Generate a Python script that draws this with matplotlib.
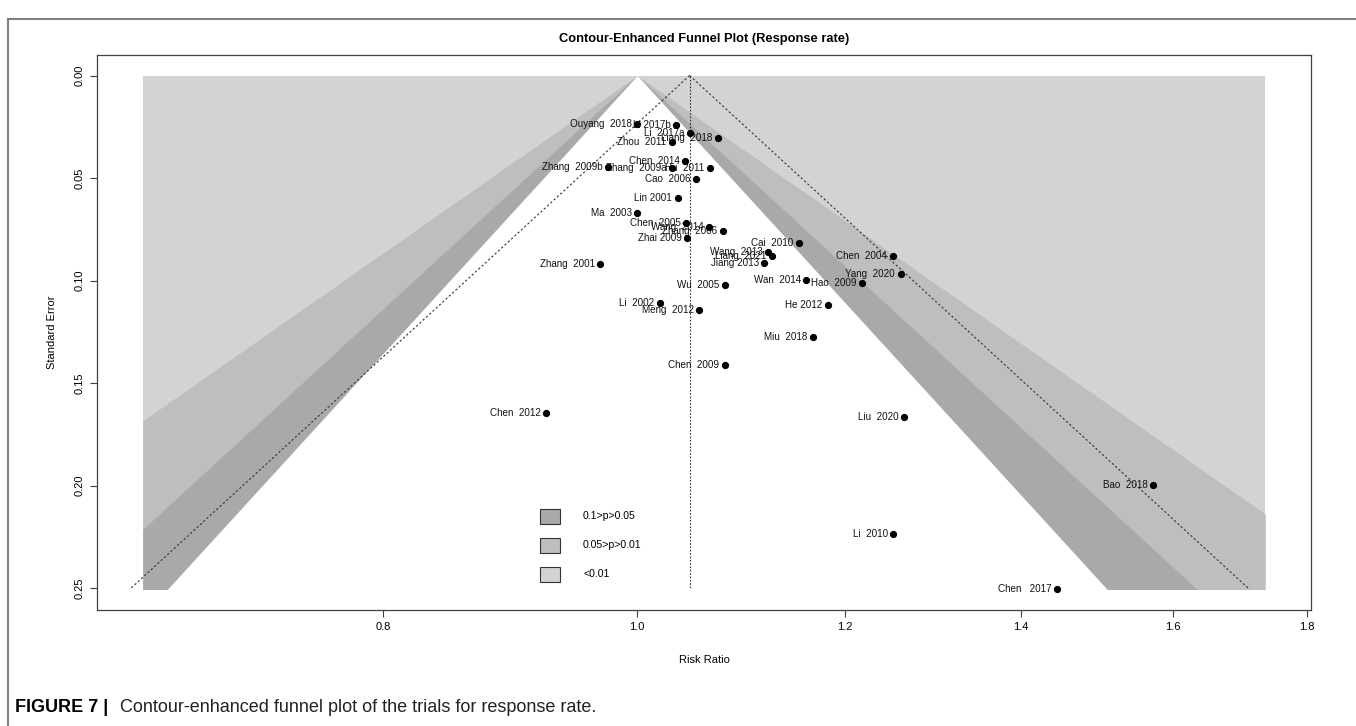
import numpy as np
import matplotlib
matplotlib.use("Agg")
import matplotlib.pyplot as plt
from matplotlib.patches import Rectangle
from matplotlib.lines import Line2D

plt.rcParams["font.family"] = ["Liberation Sans", "DejaVu Sans"]

# Study estimates: risk ratio and its standard error (log scale)
studies = [
    "Ouyang  2018", "Li 2017b", "Li  2017a", "Liang  2018", "Zhou  2011",
    "Chen  2014", "Zhang  2009b", "Zhang  2009a", "Hu  2011", "Cao  2006",
    "Lin 2001", "Ma  2003", "Chen  2005", "Wang  2014", "Zhang  2006",
    "Zhai 2009", "Cai  2010", "Wang  2013", "Liang  2021", "Jiang 2013",
    "Zhang  2001", "Wu  2005", "Wan  2014", "Hao  2009", "Li  2002",
    "Meng  2012", "He 2012", "Miu  2018", "Chen  2009", "Chen  2012",
    "Chen  2004", "Yang  2020", "Liu  2020", "Li  2010", "Bao  2018",
    "Chen   2017",
]
risk_ratio = [
    1.000, 1.035, 1.047, 1.073, 1.031,
    1.043, 0.975, 1.031, 1.066, 1.053,
    1.036, 1.000, 1.044, 1.065, 1.078,
    1.045, 1.152, 1.122, 1.125, 1.118,
    0.968, 1.080, 1.160, 1.218, 1.020,
    1.056, 1.182, 1.167, 1.080, 0.923,
    1.251, 1.260, 1.264, 1.252, 1.572,
    1.445,
]
std_err = [
    0.0235, 0.0240, 0.0281, 0.0304, 0.0323,
    0.0416, 0.0445, 0.0452, 0.0452, 0.0507,
    0.0596, 0.0671, 0.0720, 0.0739, 0.0757,
    0.0793, 0.0815, 0.0859, 0.0880, 0.0914,
    0.0921, 0.1020, 0.0996, 0.1012, 0.1110,
    0.1142, 0.1119, 0.1275, 0.1413, 0.1644,
    0.0880, 0.0967, 0.1664, 0.2237, 0.1998,
    0.2507,
]
pooled_rr = 1.047

contour_z = [2.576, 1.96, 1.645]
contour_colors = ["#BEBEBE", "#A9A9A9", "white"]
legend_labels = ["0.1>p>0.05", "0.05>p>0.01", "<0.01"]
legend_colors = ["#A9A9A9", "#BEBEBE", "#D3D3D3"]
contour_range = (0.648, 1.735)
x_ticks = [0.8, 1.0, 1.2, 1.4, 1.6, 1.8]
y_ticks = [0.00, 0.05, 0.10, 0.15, 0.20, 0.25]

W, H = 1356, 726


def fx(px):
    return px / W


def fy(py):
    return 1 - py / H


fig = plt.figure(figsize=(W / 100, H / 100), dpi=100)
ax = fig.add_axes([fx(97), fy(610), fx(1311) - fx(97), fy(55) - fy(610)])

se_max = max(std_err)
se_grid = np.linspace(0, se_max, 400)
lo, hi = contour_range

# contour regions: light background, then nested significance bands
ax.fill_betweenx([0, se_max], lo, hi, color="#D3D3D3", lw=0)
for z, col in zip(contour_z, contour_colors):
    left = np.maximum(np.exp(-z * se_grid), lo)
    right = np.minimum(np.exp(z * se_grid), hi)
    ax.fill_betweenx(se_grid, left, right, color=col, lw=0)

# pooled estimate and pseudo confidence limits
ax.plot([pooled_rr, pooled_rr], [0, se_max], color="#333333", lw=0.8, ls=(0, (1.5, 1.5)))
for sgn in (-1, 1):
    ax.plot([pooled_rr, pooled_rr * np.exp(sgn * 1.96 * se_max)], [0, se_max],
            color="#333333", lw=0.8, ls=(0, (2, 2)))

ax.plot(risk_ratio, std_err, "o", color="black", ms=4.2, zorder=5)
for name, x, y in zip(studies, risk_ratio, std_err):
    ax.annotate(name, (x, y), xytext=(-4, 0), textcoords="offset points",
                ha="right", va="center", fontsize=7.1, color="#111111")

ax.set_xscale("log")
ax.set_xlim(0.6225, 1.806)
ax.set_ylim(0.2607, -0.010)
ax.set_xticks(x_ticks)
ax.set_xticklabels([f"{t:.1f}" for t in x_ticks])
ax.xaxis.set_minor_locator(matplotlib.ticker.NullLocator())
ax.set_yticks(y_ticks)
ax.set_yticklabels([f"{t:.2f}" for t in y_ticks], rotation=90, va="center")
ax.tick_params(length=5, width=0.8, color="#404040", labelsize=8, pad=4)
for sp in ax.spines.values():
    sp.set_color("#404040")
    sp.set_linewidth(0.9)

# legend boxes
for i, (lab, col) in enumerate(zip(legend_labels, legend_colors)):
    yc = 516 + i * 29
    fig.patches.append(Rectangle((fx(540), fy(yc + 7.5)), fx(20), 15 / H,
                                 transform=fig.transFigure, facecolor=col,
                                 edgecolor="#333333", lw=0.8, zorder=6))
    fig.text(fx(583), fy(yc), lab, fontsize=7.6, va="center", ha="left")

fig.text(fx(704), fy(39), "Contour-Enhanced Funnel Plot (Response rate)",
         ha="center", va="center", fontsize=9.3, fontweight="bold")
fig.text(fx(704), fy(660), "Risk Ratio", ha="center", va="center", fontsize=8)
fig.text(fx(52), fy(332), "Standard Error", ha="center", va="center",
         rotation=90, fontsize=8)

# page frame and caption
fig.add_artist(Line2D([fx(8), 1], [fy(19), fy(19)], color="#808080", lw=1.5))
fig.add_artist(Line2D([fx(8), fx(8)], [fy(19), 0], color="#808080", lw=1.5))
fig.text(fx(15), fy(707), "FIGURE 7 |", fontsize=13, fontweight="bold",
         va="center", ha="left")
fig.text(fx(120), fy(707),
         "Contour-enhanced funnel plot of the trials for response rate.",
         fontsize=13, va="center", ha="left", color="#222222")

fig.savefig("out.png", dpi=100)
